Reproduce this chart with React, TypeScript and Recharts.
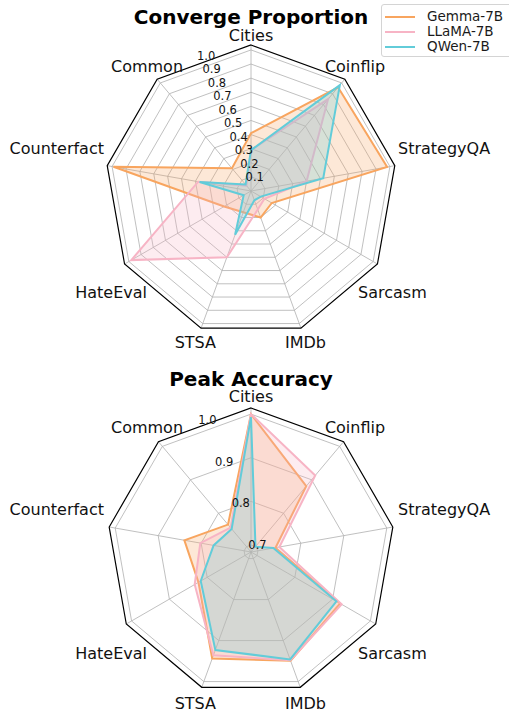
import { RadarChart, Radar, PolarGrid, PolarAngleAxis, PolarRadiusAxis, Legend } from 'recharts'

const axes = ['Cities', 'Coinflip', 'StrategyQA', 'Sarcasm', 'IMDb', 'STSA', 'HateEval', 'Counterfact', 'Common']
const models = ['Gemma-7B', 'LLaMA-7B', 'QWen-7B']
const colors = ['#f8a55f', '#f7b4c5', '#62ccd9']

// converge proportion
const convGemma = [0.41, 0.96, 0.98, 0.17, 0.2, 0.16, 0.22, 0.99, 0.21]
const convLlama = [0.29, 0.85, 0.4, 0.11, 0.14, 0.5, 0.98, 0.38, 0.05]
const convQwen = [0.29, 0.98, 0.52, 0.08, 0.07, 0.33, 0.06, 0.37, 0.06]
const convTicks = [0.1, 0.2, 0.3, 0.4, 0.5, 0.6, 0.7, 0.8, 0.9, 1.0]

// peak accuracy
const peakGemma = [1.0, 0.881, 0.741, 0.92, 0.949, 0.944, 0.823, 0.839, 0.766]
const peakLlama = [1.0, 0.913, 0.75, 0.924, 0.948, 0.936, 0.833, 0.802, 0.757]
const peakQwen = [0.993, 0.7, 0.736, 0.91, 0.946, 0.923, 0.817, 0.771, 0.753]
const peakTicks = [0.7, 0.8, 0.9, 1.0]

const FONT = '"DejaVu Sans", sans-serif'
const CX = 251

// label centre offsets from the chart centre (matplotlib-ish placement)
const LABEL_POS: Record<string, [number, number, 'start' | 'middle' | 'end']> = {
  Cities: [0, -156, 'middle'],
  Coinflip: [104, -125, 'middle'],
  StrategyQA: [147, -43, 'start'],
  Sarcasm: [107, 101, 'start'],
  IMDb: [34, 151, 'start'],
  STSA: [-35, 151, 'end'],
  HateEval: [-104, 101, 'end'],
  Counterfact: [-147, -43, 'end'],
  Common: [-104, -125, 'middle'],
}

const renderLegend = () => (
  <div style={{ width: 140, height: 53, border: '1px solid #d4d4d4', borderRadius: 3, background: 'rgba(255,255,255,0.85)', boxSizing: 'border-box', paddingTop: 4, fontFamily: FONT }}>
    {models.map((m, i) => (
      <div key={m} style={{ display: 'flex', alignItems: 'center', height: 15 }}>
        <div style={{ width: 30, height: 0, borderTop: `2px solid ${colors[i]}`, marginLeft: 3 }} />
        <span style={{ marginLeft: 12, fontSize: 13.5, color: '#1a1a1a', lineHeight: '15px' }}>{m}</span>
      </div>
    ))}
  </div>
)

interface PanelProps {
  title: string
  top: number
  height: number
  cy: number
  radius: number
  domain: [number, number]
  ticks: number[]
  series: number[][]
  legend?: boolean
  titleY: number
}

function RadarPanel({ title, top, height, cy, radius, domain, ticks, series, legend, titleY }: PanelProps) {
  const data = axes.map((axis, i) => ({ axis, g: series[0][i], l: series[1][i], q: series[2][i] }))
  const gridRadii = ticks.map((v) => ((v - domain[0]) / (domain[1] - domain[0])) * radius)

  const angleTick = (props: any) => {
    const name = props.payload.value as string
    const [dx, dy, anchor] = LABEL_POS[name]
    return (
      <text x={CX + dx} y={cy + dy} textAnchor={anchor} dominantBaseline="central" fontSize={16} fontFamily={FONT} fill="#111">
        {name}
      </text>
    )
  }

  const radiusTick = (props: any) => {
    const r = props.payload.coordinate as number
    return (
      <text x={props.x} y={props.y - r * 0.036} textAnchor="start" dominantBaseline="central" fontSize={11.5} fontFamily={FONT} fill="#111">
        {Number(props.payload.value).toFixed(1)}
      </text>
    )
  }

  return (
    <div style={{ position: 'absolute', left: 0, top, width: 509, height }}>
      <div style={{ position: 'absolute', left: 0, top: titleY - 10, width: 502, height: 20, lineHeight: '20px', textAlign: 'center', fontSize: 20, fontWeight: 'bold', fontFamily: FONT, color: '#000', zIndex: 2 }}>
        {title}
      </div>
      <RadarChart width={509} height={height} data={data} cx={CX} cy={cy} outerRadius={radius} margin={{ top: 0, right: 0, bottom: 0, left: 0 }}>
        <PolarGrid gridType="polygon" polarRadius={gridRadii} stroke="#b0b0b0" strokeWidth={0.8} />
        <PolarGrid gridType="polygon" polarRadius={[radius]} radialLines={false} stroke="#000" strokeWidth={1.2} />
        <PolarAngleAxis dataKey="axis" tick={angleTick} tickLine={false} axisLine={false} />
        <PolarRadiusAxis type="number" domain={domain} ticks={ticks} angle={112.5} axisLine={false} tickLine={false} tick={radiusTick} allowDataOverflow />
        <Radar name={models[0]} dataKey="g" stroke={colors[0]} strokeWidth={2} fill={colors[0]} fillOpacity={0.25} isAnimationActive={false} />
        <Radar name={models[1]} dataKey="l" stroke={colors[1]} strokeWidth={2} fill={colors[1]} fillOpacity={0.25} isAnimationActive={false} />
        <Radar name={models[2]} dataKey="q" stroke={colors[2]} strokeWidth={2} fill={colors[2]} fillOpacity={0.25} isAnimationActive={false} />
        {legend && <Legend content={renderLegend} wrapperStyle={{ position: 'absolute', left: 381, top: 4, width: 140 }} />}
      </RadarChart>
    </div>
  )
}

export default function App() {
  return (
    <div style={{ position: 'absolute', left: 0, top: 0, width: 509, height: 711, overflow: 'hidden', background: '#fff' }}>
      <RadarPanel
        title="Converge Proportion"
        top={0}
        height={360}
        cy={191}
        radius={146}
        domain={[0, 1.035]}
        ticks={convTicks}
        series={[convGemma, convLlama, convQwen]}
        legend
        titleY={17}
      />
      <RadarPanel
        title="Peak Accuracy"
        top={360}
        height={351}
        cy={192}
        radius={144}
        domain={[0.684, 1.014]}
        ticks={peakTicks}
        series={[peakGemma, peakLlama, peakQwen]}
        titleY={19}
      />
    </div>
  )
}
